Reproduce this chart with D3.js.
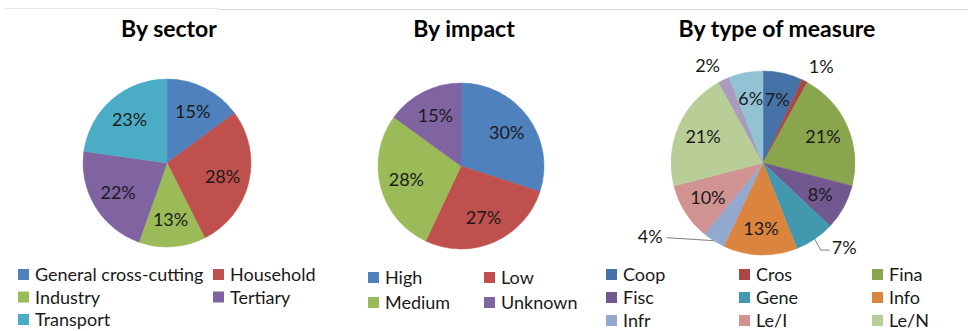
<!DOCTYPE html>
<html>
<head>
<meta charset="utf-8">
<script src="https://cdn.jsdelivr.net/npm/d3@7"></script>
<style>
  html, body { margin: 0; padding: 0; background: #fff; }
  svg { display: block; font-family: Lato, "Open Sans", sans-serif; }
</style>
</head>
<body>
<svg id="chart" width="968" height="331"></svg>
<script>
// ---- data ----
const sectorNames = ["General cross-cutting", "Household", "Industry", "Tertiary", "Transport"];
const sectorValues = [15, 28, 13, 22, 23];
const sectorColors = ["#4F81BD", "#C0504D", "#9BBB59", "#8064A2", "#4BACC6"];

const impactNames = ["High", "Low", "Medium", "Unknown"];
const impactValues = [30, 27, 28, 15];
const impactColors = ["#4F81BD", "#C0504D", "#9BBB59", "#8064A2"];

const measureNames = ["Coop", "Cros", "Fina", "Fisc", "Gene", "Info", "Infr", "Le/I", "Le/N", "Othe", "Regu"];
const measureValues = [7, 1, 21, 8, 7, 13, 4, 10, 21, 2, 6];
const measureColors = ["#4572A7", "#AA4643", "#89A54E", "#71588F", "#4198AF", "#DB843D",
                       "#93A9CF", "#D19392", "#B9CD96", "#A99BBD", "#92C3D4"];

// ---- layout ----
const svg = d3.select("#chart");
const W = 968, H = 331;

// faint frame rules along the top
svg.append("line").attr("x1", 5).attr("x2", 218).attr("y1", 8.5).attr("y2", 8.5)
  .attr("stroke", "#e6e6e6").attr("stroke-width", 1);
svg.append("line").attr("x1", 218).attr("x2", W).attr("y1", 9.5).attr("y2", 9.5)
  .attr("stroke", "#d9d9d9").attr("stroke-width", 1);

const charts = [
  {
    title: "By sector", titleX: 169, names: sectorNames, values: sectorValues, colors: sectorColors,
    cx: 167, cy: 163, r: 84, labelR: 0.68,
    legend: { cols: [18, 213], rows: [281, 303.5, 326] },
    callouts: {}
  },
  {
    title: "By impact", titleX: 464, names: impactNames, values: impactValues, colors: impactColors,
    cx: 461, cy: 166, r: 83, labelR: 0.68,
    legend: { cols: [368, 484], rows: [284, 309] },
    callouts: {}
  },
  {
    title: "By type of measure", titleX: 777, names: measureNames, values: measureValues, colors: measureColors,
    cx: 763, cy: 163, r: 92, labelR: 0.71,
    legend: { cols: [606, 739, 872], rows: [281, 304, 327] },
    // labels drawn outside the pie: distance from the rim, optional elbow leader line
    callouts: {
      Cros: { gap: 9, anchor: "start", dy: 0 },
      Othe: { gap: 9, anchor: "end", dy: 0 },
      Gene: { leader: [[6, 11], [15, 11]], anchor: "start", tx: 17, ty: 15 },
      Infr: { leader: [[-47, -3]], anchor: "end", tx: -51, ty: 2 }
    }
  }
];

const fontLabel = 18;

charts.forEach(c => {
  const g = svg.append("g");

  g.append("text")
    .attr("x", c.titleX).attr("y", 37)
    .attr("text-anchor", "middle")
    .attr("font-weight", 700)
    .attr("font-size", 23)
    .attr("fill", "#000")
    .text(c.title);

  const data = c.names.map((n, i) => ({ name: n, value: c.values[i], color: c.colors[i] }));
  const pie = d3.pie().value(d => d.value).sort(null);
  const arcs = pie(data);
  const arc = d3.arc().innerRadius(0).outerRadius(c.r);
  const labelArc = d3.arc().innerRadius(c.r * c.labelR).outerRadius(c.r * c.labelR);

  const pg = g.append("g").attr("transform", `translate(${c.cx},${c.cy})`);

  pg.selectAll("path.slice").data(arcs).join("path")
    .attr("class", "slice")
    .attr("d", arc)
    .attr("fill", d => d.data.color)
    .attr("stroke", d => d.data.color)
    .attr("stroke-width", 0.5);

  arcs.forEach(a => {
    const txt = a.data.value + "%";
    const co = c.callouts[a.data.name];
    if (!co) {
      const [x, y] = labelArc.centroid(a);
      pg.append("text")
        .attr("x", x).attr("y", y)
        .attr("dy", "0.35em")
        .attr("text-anchor", "middle")
        .attr("font-size", fontLabel)
        .attr("fill", "#1a1a1a")
        .text(txt);
      return;
    }
    const mid = (a.startAngle + a.endAngle) / 2;
    const ex = Math.sin(mid) * c.r, ey = -Math.cos(mid) * c.r;
    if (co.leader) {
      const pts = [[ex, ey]].concat(co.leader.map(p => [ex + p[0], ey + p[1]]));
      pg.append("path")
        .attr("d", d3.line()(pts))
        .attr("fill", "none")
        .attr("stroke", "#7f7f7f")
        .attr("stroke-width", 1);
      pg.append("text")
        .attr("x", ex + co.tx).attr("y", ey + co.ty)
        .attr("text-anchor", co.anchor)
        .attr("font-size", fontLabel)
        .attr("fill", "#1a1a1a")
        .text(txt);
    } else {
      const rr = c.r + co.gap;
      pg.append("text")
        .attr("x", Math.sin(mid) * rr).attr("y", -Math.cos(mid) * rr + co.dy)
        .attr("text-anchor", co.anchor)
        .attr("font-size", fontLabel)
        .attr("fill", "#1a1a1a")
        .text(txt);
    }
  });

  // legend, filled row by row; rows that do not fit are not drawn
  const nCols = c.legend.cols.length;
  data.forEach((d, i) => {
    const row = Math.floor(i / nCols), col = i % nCols;
    if (row >= c.legend.rows.length) return;
    const x = c.legend.cols[col], y = c.legend.rows[row];
    g.append("rect")
      .attr("x", x).attr("y", y - 12)
      .attr("width", 11).attr("height", 11)
      .attr("fill", d.color);
    g.append("text")
      .attr("x", x + 17).attr("y", y)
      .attr("font-size", fontLabel)
      .attr("fill", "#1a1a1a")
      .text(d.name);
  });
});
</script>
</body>
</html>
